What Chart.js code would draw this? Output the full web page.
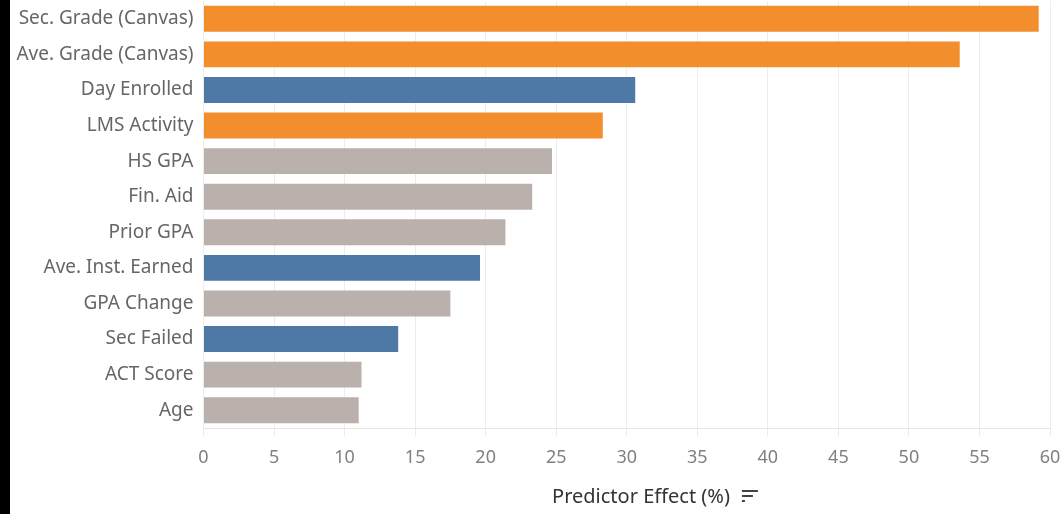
<!DOCTYPE html>
<html>
<head>
<meta charset="utf-8">
<script src="https://cdn.jsdelivr.net/npm/chart.js@4"></script>
<style>
  html, body { margin: 0; padding: 0; background: #fff; }
  #wrap { width: 1060px; height: 514px; position: relative; }
</style>
</head>
<body>
<div id="wrap"><canvas id="c" width="1060" height="514"></canvas></div>
<script>
const categories = ["Sec. Grade (Canvas)", "Ave. Grade (Canvas)", "Day Enrolled", "LMS Activity", "HS GPA", "Fin. Aid", "Prior GPA", "Ave. Inst. Earned", "GPA Change", "Sec Failed", "ACT Score", "Age"];
const effectValues = [59.2, 53.6, 30.6, 28.3, 24.7, 23.3, 21.4, 19.6, 17.5, 13.8, 11.2, 11.0];
const groups = ["canvas", "canvas", "sis", "canvas", "other", "other", "other", "sis", "other", "sis", "other", "other"];
const groupColors = { canvas: "#F28E2B", sis: "#4E79A7", other: "#BAB0AC" };
const xTicks = [0, 5, 10, 15, 20, 25, 30, 35, 40, 45, 50, 55, 60];
const axisTitle = "Predictor Effect (%)";

const FONT = "'Noto Sans', sans-serif";

const decor = {
  id: 'decor',
  beforeDraw(chart) {
    const ctx = chart.ctx;
    ctx.save();
    ctx.fillStyle = '#ffffff';
    ctx.fillRect(0, 0, chart.width, chart.height);
    ctx.fillStyle = '#000000';
    ctx.fillRect(0, 0, 10, chart.height);
    ctx.restore();
  },
  afterDraw(chart) {
    const ctx = chart.ctx;
    ctx.save();
    ctx.font = "20px " + FONT;
    ctx.fillStyle = '#333333';
    ctx.textAlign = 'center';
    ctx.textBaseline = 'middle';
    const cx = 641, cy = 497;
    ctx.fillText(axisTitle, cx, cy);
    const w = ctx.measureText(axisTitle).width;
    const ix = cx + w / 2 + 12;
    ctx.fillStyle = '#444444';
    ctx.fillRect(ix, cy - 7, 16, 2);
    ctx.fillRect(ix, cy - 2, 11, 2);
    ctx.fillRect(ix, cy + 3, 3, 2);
    ctx.restore();
  }
};

new Chart(document.getElementById('c'), {
  type: 'bar',
  data: {
    labels: categories,
    datasets: [{
      data: effectValues,
      backgroundColor: groups.map(g => groupColors[g]),
      borderWidth: 0,
      barPercentage: 0.73,
      categoryPercentage: 1.0
    }]
  },
  options: {
    indexAxis: 'y',
    responsive: false,
    animation: false,
    devicePixelRatio: 1,
    layout: { padding: { top: 1, right: 10, left: 0, bottom: 0 } },
    plugins: { legend: { display: false }, tooltip: { enabled: false } },
    scales: {
      x: {
        type: 'linear',
        min: 0, max: 60,
        afterBuildTicks(scale) { scale.ticks = xTicks.map(v => ({ value: v })); },
        afterFit(scale) { scale.height = 86; scale.paddingLeft = 0; scale.paddingRight = 0; },
        grid: { color: '#ececec', lineWidth: 1, tickLength: 8, drawTicks: true },
        border: { display: true, color: '#e6e6e6' },
        ticks: { color: '#808080', font: { family: FONT, size: 18 }, padding: 11, maxRotation: 0 }
      },
      y: {
        afterFit(scale) { scale.width = 203.5; scale.paddingTop = 0; scale.paddingBottom = 0; },
        grid: { display: false, drawTicks: false },
        border: { display: false },
        ticks: { color: '#666666', font: { family: FONT, size: 19 }, padding: 10, autoSkip: false }
      }
    }
  },
  plugins: [decor]
});
</script>
</body>
</html>
